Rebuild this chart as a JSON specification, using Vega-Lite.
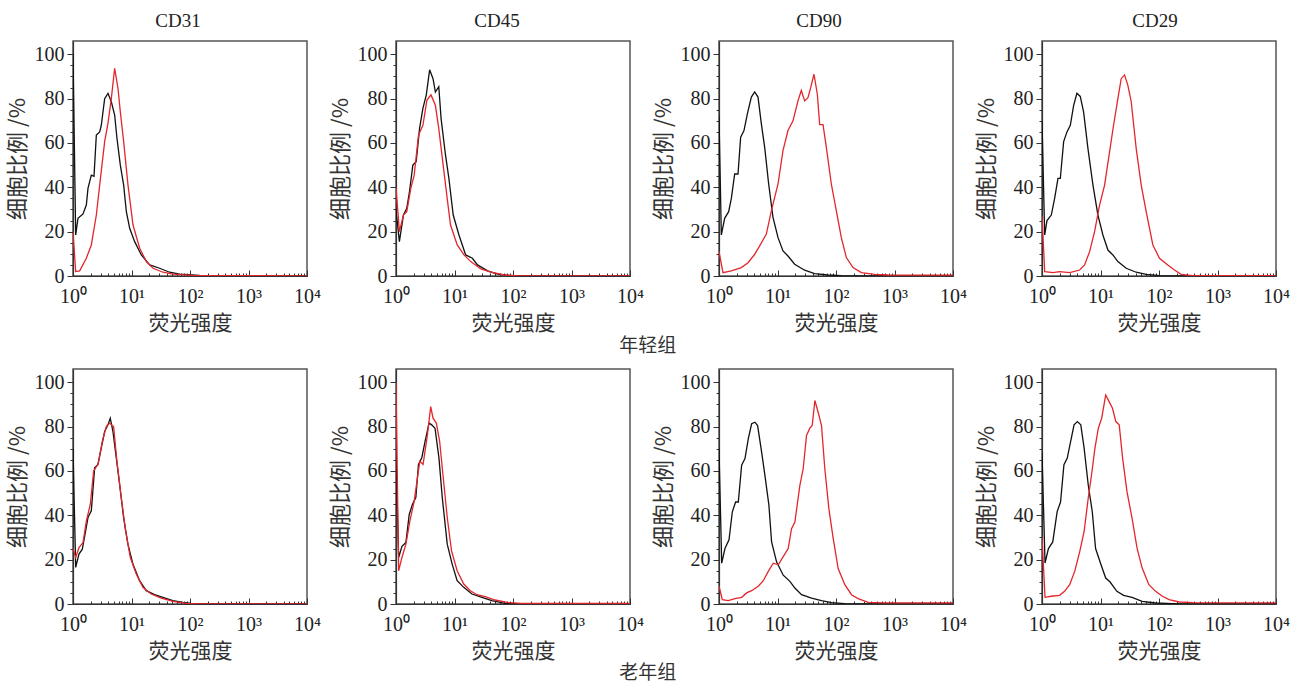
{
 "$schema": "https://vega.github.io/schema/vega-lite/v6.json",
 "padding": {"top": 11, "left": 5, "right": 5, "bottom": 0},
 "background": "white",
 "spacing": 12,
 "vconcat": [
  {
   "bounds": "flush",
   "spacing": 89,
   "title": {"text": "年轻组", "orient": "bottom", "anchor": "middle", "font": "Noto Sans CJK SC", "fontSize": 19, "fontWeight": "normal", "color": "#333", "offset": 3},
   "hconcat": [
    {
     "width": 234, "height": 235,
     "title": {"text": "CD31", "dx": -12, "offset": 10},
     "data": {"values": [
      {"s":"c","x":0,"y":100},{"s":"c","x":0.046,"y":18.5},{"s":"c","x":0.085,"y":26},{"s":"c","x":0.171,"y":28},{"s":"c","x":0.228,"y":32},{"s":"c","x":0.256,"y":39.5},{"s":"c","x":0.313,"y":45.5},{"s":"c","x":0.359,"y":45},{"s":"c","x":0.399,"y":63.6},{"s":"c","x":0.456,"y":65},{"s":"c","x":0.484,"y":68},{"s":"c","x":0.541,"y":80},{"s":"c","x":0.598,"y":82.4},{"s":"c","x":0.655,"y":78.6},{"s":"c","x":0.712,"y":72.6},{"s":"c","x":0.752,"y":62},{"s":"c","x":0.809,"y":50},{"s":"c","x":0.866,"y":41},{"s":"c","x":0.912,"y":29},{"s":"c","x":0.969,"y":21.5},{"s":"c","x":1.054,"y":15.5},{"s":"c","x":1.168,"y":9.5},{"s":"c","x":1.311,"y":5},{"s":"c","x":1.481,"y":3.5},{"s":"c","x":1.652,"y":1.7},{"s":"c","x":1.823,"y":0.8},{"s":"c","x":2.165,"y":0.3},{"s":"c","x":2.336,"y":0.15},{"s":"c","x":2.5,"y":0},{"s":"c","x":4,"y":0},
      {"s":"r","x":0,"y":20},{"s":"r","x":0.046,"y":2},{"s":"r","x":0.114,"y":2.3},{"s":"r","x":0.228,"y":8},{"s":"r","x":0.313,"y":14},{"s":"r","x":0.399,"y":27.5},{"s":"r","x":0.456,"y":41},{"s":"r","x":0.541,"y":60.6},{"s":"r","x":0.598,"y":69},{"s":"r","x":0.655,"y":80},{"s":"r","x":0.712,"y":93.7},{"s":"r","x":0.769,"y":84.7},{"s":"r","x":0.809,"y":74},{"s":"r","x":0.866,"y":60.6},{"s":"r","x":0.94,"y":41},{"s":"r","x":1.026,"y":23},{"s":"r","x":1.14,"y":12.5},{"s":"r","x":1.254,"y":6.5},{"s":"r","x":1.368,"y":3.5},{"s":"r","x":1.538,"y":1.7},{"s":"r","x":1.709,"y":0.8},{"s":"r","x":2.051,"y":0.3},{"s":"r","x":2.45,"y":0.15},{"s":"r","x":4,"y":0.1}
     ]},
     "mark": {"type": "line", "strokeWidth": 1.3, "clip": true},
     "encoding": {
      "x": {"field": "x", "type": "quantitative", "title": "荧光强度", "scale": {"domain": [0, 4], "nice": false, "zero": false}, "axis": {"values": [0,0.30103,0.47712,0.60206,0.69897,0.77815,0.8451,0.90309,0.95424,1,1.30103,1.47712,1.60206,1.69897,1.77815,1.8451,1.90309,1.95424,2,2.30103,2.47712,2.60206,2.69897,2.77815,2.8451,2.90309,2.95424,3,3.30103,3.47712,3.60206,3.69897,3.77815,3.8451,3.90309,3.95424,4], "labelExpr": "datum.value === 0 ? '10⁰' : datum.value === 1 ? '10¹' : datum.value === 2 ? '10²' : datum.value === 3 ? '10³' : datum.value === 4 ? '10⁴' : ''", "tickSize": {"condition": {"test": "datum.value % 1 === 0", "value": -6}, "value": -3}}},
      "y": {"field": "y", "type": "quantitative", "title": "细胞比例 /%", "scale": {"domain": [0, 106], "nice": false}, "axis": {"values": [0,5,10,15,20,25,30,35,40,45,50,55,60,65,70,75,80,85,90,95,100], "labelExpr": "datum.value % 20 === 0 ? datum.label : ''", "tickSize": {"condition": {"test": "datum.value % 20 === 0", "value": 6}, "value": 3}}},
      "color": {"field": "s", "type": "nominal", "scale": {"domain": ["c", "r"], "range": ["#111111", "#e3262b"]}, "legend": null}
     }
    },
    {
     "width": 234, "height": 235,
     "title": {"text": "CD45", "dx": -16, "offset": 10},
     "data": {"values": [
      {"s":"c","x":0,"y":30},{"s":"c","x":0.058,"y":15.5},{"s":"c","x":0.127,"y":27.5},{"s":"c","x":0.184,"y":30.5},{"s":"c","x":0.23,"y":38},{"s":"c","x":0.288,"y":50},{"s":"c","x":0.345,"y":51.6},{"s":"c","x":0.403,"y":66.6},{"s":"c","x":0.46,"y":75.6},{"s":"c","x":0.518,"y":81.7},{"s":"c","x":0.575,"y":93},{"s":"c","x":0.633,"y":89},{"s":"c","x":0.673,"y":83},{"s":"c","x":0.731,"y":85.4},{"s":"c","x":0.771,"y":71},{"s":"c","x":0.846,"y":54.6},{"s":"c","x":0.904,"y":44},{"s":"c","x":0.978,"y":27.5},{"s":"c","x":1.076,"y":18.5},{"s":"c","x":1.191,"y":9.5},{"s":"c","x":1.306,"y":8},{"s":"c","x":1.393,"y":5},{"s":"c","x":1.566,"y":2.3},{"s":"c","x":1.738,"y":0.8},{"s":"c","x":1.968,"y":0.15},{"s":"c","x":2.2,"y":0},{"s":"c","x":4,"y":0},
      {"s":"r","x":0,"y":40},{"s":"r","x":0.058,"y":20},{"s":"r","x":0.127,"y":27.5},{"s":"r","x":0.184,"y":29},{"s":"r","x":0.253,"y":39.5},{"s":"r","x":0.311,"y":45.5},{"s":"r","x":0.385,"y":63.6},{"s":"r","x":0.46,"y":68},{"s":"r","x":0.529,"y":79.4},{"s":"r","x":0.598,"y":81.7},{"s":"r","x":0.673,"y":77},{"s":"r","x":0.731,"y":66.6},{"s":"r","x":0.806,"y":50},{"s":"r","x":0.875,"y":35},{"s":"r","x":0.932,"y":23},{"s":"r","x":1.047,"y":14},{"s":"r","x":1.162,"y":9.5},{"s":"r","x":1.278,"y":6.5},{"s":"r","x":1.45,"y":3.2},{"s":"r","x":1.623,"y":1.7},{"s":"r","x":1.853,"y":0.45},{"s":"r","x":2.1,"y":0.1},{"s":"r","x":4,"y":0.1}
     ]},
     "mark": {"type": "line", "strokeWidth": 1.3, "clip": true},
     "encoding": {
      "x": {"field": "x", "type": "quantitative", "title": "荧光强度", "scale": {"domain": [0, 4], "nice": false, "zero": false}, "axis": {"values": [0,0.30103,0.47712,0.60206,0.69897,0.77815,0.8451,0.90309,0.95424,1,1.30103,1.47712,1.60206,1.69897,1.77815,1.8451,1.90309,1.95424,2,2.30103,2.47712,2.60206,2.69897,2.77815,2.8451,2.90309,2.95424,3,3.30103,3.47712,3.60206,3.69897,3.77815,3.8451,3.90309,3.95424,4], "labelExpr": "datum.value === 0 ? '10⁰' : datum.value === 1 ? '10¹' : datum.value === 2 ? '10²' : datum.value === 3 ? '10³' : datum.value === 4 ? '10⁴' : ''", "tickSize": {"condition": {"test": "datum.value % 1 === 0", "value": -6}, "value": -3}}},
      "y": {"field": "y", "type": "quantitative", "title": "细胞比例 /%", "scale": {"domain": [0, 106], "nice": false}, "axis": {"values": [0,5,10,15,20,25,30,35,40,45,50,55,60,65,70,75,80,85,90,95,100], "labelExpr": "datum.value % 20 === 0 ? datum.label : ''", "tickSize": {"condition": {"test": "datum.value % 20 === 0", "value": 6}, "value": 3}}},
      "color": {"field": "s", "type": "nominal", "scale": {"domain": ["c", "r"], "range": ["#111111", "#e3262b"]}, "legend": null}
     }
    },
    {
     "width": 234, "height": 235,
     "title": {"text": "CD90", "dx": -17, "offset": 10},
     "data": {"values": [
      {"s":"c","x":0,"y":72},{"s":"c","x":0.04,"y":18.5},{"s":"c","x":0.097,"y":26},{"s":"c","x":0.165,"y":29},{"s":"c","x":0.211,"y":35},{"s":"c","x":0.268,"y":46},{"s":"c","x":0.325,"y":46},{"s":"c","x":0.37,"y":62.6},{"s":"c","x":0.427,"y":65.6},{"s":"c","x":0.484,"y":73},{"s":"c","x":0.553,"y":80.7},{"s":"c","x":0.61,"y":83},{"s":"c","x":0.667,"y":80.7},{"s":"c","x":0.724,"y":68.6},{"s":"c","x":0.781,"y":58},{"s":"c","x":0.849,"y":41.5},{"s":"c","x":0.923,"y":26.4},{"s":"c","x":1.009,"y":17.3},{"s":"c","x":1.094,"y":11.3},{"s":"c","x":1.179,"y":9},{"s":"c","x":1.293,"y":5.3},{"s":"c","x":1.464,"y":2.6},{"s":"c","x":1.635,"y":1.05},{"s":"c","x":1.863,"y":0.45},{"s":"c","x":2.09,"y":0.15},{"s":"c","x":2.3,"y":0},{"s":"c","x":4,"y":0},
      {"s":"r","x":0,"y":11},{"s":"r","x":0.068,"y":1.5},{"s":"r","x":0.211,"y":2.3},{"s":"r","x":0.382,"y":3.8},{"s":"r","x":0.496,"y":6},{"s":"r","x":0.61,"y":9.8},{"s":"r","x":0.695,"y":13.6},{"s":"r","x":0.809,"y":18.9},{"s":"r","x":0.895,"y":29.4},{"s":"r","x":1.009,"y":41.5},{"s":"r","x":1.094,"y":56.6},{"s":"r","x":1.179,"y":65.6},{"s":"r","x":1.265,"y":70},{"s":"r","x":1.35,"y":79},{"s":"r","x":1.407,"y":83.7},{"s":"r","x":1.464,"y":79},{"s":"r","x":1.521,"y":80.4},{"s":"r","x":1.567,"y":85},{"s":"r","x":1.624,"y":91},{"s":"r","x":1.681,"y":82},{"s":"r","x":1.721,"y":68.3},{"s":"r","x":1.778,"y":68.3},{"s":"r","x":1.835,"y":58},{"s":"r","x":1.92,"y":41.5},{"s":"r","x":2.006,"y":29.4},{"s":"r","x":2.091,"y":17.3},{"s":"r","x":2.177,"y":8.3},{"s":"r","x":2.291,"y":3.8},{"s":"r","x":2.433,"y":1.5},{"s":"r","x":2.661,"y":0.75},{"s":"r","x":2.889,"y":0.45},{"s":"r","x":4,"y":0.4}
     ]},
     "mark": {"type": "line", "strokeWidth": 1.3, "clip": true},
     "encoding": {
      "x": {"field": "x", "type": "quantitative", "title": "荧光强度", "scale": {"domain": [0, 4], "nice": false, "zero": false}, "axis": {"values": [0,0.30103,0.47712,0.60206,0.69897,0.77815,0.8451,0.90309,0.95424,1,1.30103,1.47712,1.60206,1.69897,1.77815,1.8451,1.90309,1.95424,2,2.30103,2.47712,2.60206,2.69897,2.77815,2.8451,2.90309,2.95424,3,3.30103,3.47712,3.60206,3.69897,3.77815,3.8451,3.90309,3.95424,4], "labelExpr": "datum.value === 0 ? '10⁰' : datum.value === 1 ? '10¹' : datum.value === 2 ? '10²' : datum.value === 3 ? '10³' : datum.value === 4 ? '10⁴' : ''", "tickSize": {"condition": {"test": "datum.value % 1 === 0", "value": -6}, "value": -3}}},
      "y": {"field": "y", "type": "quantitative", "title": "细胞比例 /%", "scale": {"domain": [0, 106], "nice": false}, "axis": {"values": [0,5,10,15,20,25,30,35,40,45,50,55,60,65,70,75,80,85,90,95,100], "labelExpr": "datum.value % 20 === 0 ? datum.label : ''", "tickSize": {"condition": {"test": "datum.value % 20 === 0", "value": 6}, "value": 3}}},
      "color": {"field": "s", "type": "nominal", "scale": {"domain": ["c", "r"], "range": ["#111111", "#e3262b"]}, "legend": null}
     }
    },
    {
     "width": 234, "height": 235,
     "title": {"text": "CD29", "dx": -4, "offset": 10},
     "data": {"values": [
      {"s":"c","x":0,"y":70},{"s":"c","x":0.046,"y":18.5},{"s":"c","x":0.085,"y":25},{"s":"c","x":0.159,"y":27.5},{"s":"c","x":0.216,"y":35},{"s":"c","x":0.273,"y":44},{"s":"c","x":0.313,"y":44},{"s":"c","x":0.37,"y":60.6},{"s":"c","x":0.427,"y":65},{"s":"c","x":0.484,"y":68},{"s":"c","x":0.541,"y":77},{"s":"c","x":0.597,"y":82.4},{"s":"c","x":0.654,"y":81},{"s":"c","x":0.711,"y":74},{"s":"c","x":0.785,"y":57.6},{"s":"c","x":0.871,"y":41},{"s":"c","x":0.956,"y":27.5},{"s":"c","x":1.041,"y":18.5},{"s":"c","x":1.127,"y":11.7},{"s":"c","x":1.212,"y":9.5},{"s":"c","x":1.297,"y":6.5},{"s":"c","x":1.44,"y":3.5},{"s":"c","x":1.61,"y":1.7},{"s":"c","x":1.78,"y":0.75},{"s":"c","x":2.008,"y":0.15},{"s":"c","x":2.2,"y":0},{"s":"c","x":4,"y":0},
      {"s":"r","x":0,"y":27},{"s":"r","x":0.046,"y":2},{"s":"r","x":0.188,"y":1.5},{"s":"r","x":0.302,"y":2},{"s":"r","x":0.472,"y":1.5},{"s":"r","x":0.643,"y":2.7},{"s":"r","x":0.728,"y":5},{"s":"r","x":0.814,"y":11},{"s":"r","x":0.899,"y":20},{"s":"r","x":0.984,"y":32},{"s":"r","x":1.07,"y":41},{"s":"r","x":1.155,"y":56},{"s":"r","x":1.223,"y":68},{"s":"r","x":1.297,"y":80},{"s":"r","x":1.354,"y":89},{"s":"r","x":1.411,"y":90.7},{"s":"r","x":1.468,"y":86},{"s":"r","x":1.525,"y":78.6},{"s":"r","x":1.61,"y":57.6},{"s":"r","x":1.696,"y":41},{"s":"r","x":1.781,"y":29},{"s":"r","x":1.895,"y":14},{"s":"r","x":2.008,"y":8},{"s":"r","x":2.15,"y":5},{"s":"r","x":2.264,"y":2.7},{"s":"r","x":2.378,"y":0.75},{"s":"r","x":2.577,"y":0.15},{"s":"r","x":4,"y":0.1}
     ]},
     "mark": {"type": "line", "strokeWidth": 1.3, "clip": true},
     "encoding": {
      "x": {"field": "x", "type": "quantitative", "title": "荧光强度", "scale": {"domain": [0, 4], "nice": false, "zero": false}, "axis": {"values": [0,0.30103,0.47712,0.60206,0.69897,0.77815,0.8451,0.90309,0.95424,1,1.30103,1.47712,1.60206,1.69897,1.77815,1.8451,1.90309,1.95424,2,2.30103,2.47712,2.60206,2.69897,2.77815,2.8451,2.90309,2.95424,3,3.30103,3.47712,3.60206,3.69897,3.77815,3.8451,3.90309,3.95424,4], "labelExpr": "datum.value === 0 ? '10⁰' : datum.value === 1 ? '10¹' : datum.value === 2 ? '10²' : datum.value === 3 ? '10³' : datum.value === 4 ? '10⁴' : ''", "tickSize": {"condition": {"test": "datum.value % 1 === 0", "value": -6}, "value": -3}}},
      "y": {"field": "y", "type": "quantitative", "title": "细胞比例 /%", "scale": {"domain": [0, 106], "nice": false}, "axis": {"values": [0,5,10,15,20,25,30,35,40,45,50,55,60,65,70,75,80,85,90,95,100], "labelExpr": "datum.value % 20 === 0 ? datum.label : ''", "tickSize": {"condition": {"test": "datum.value % 20 === 0", "value": 6}, "value": 3}}},
      "color": {"field": "s", "type": "nominal", "scale": {"domain": ["c", "r"], "range": ["#111111", "#e3262b"]}, "legend": null}
     }
    }
   ]
  },
  {
   "bounds": "flush",
   "spacing": 89,
   "title": {"text": "老年组", "orient": "bottom", "anchor": "middle", "font": "Noto Sans CJK SC", "fontSize": 19, "fontWeight": "normal", "color": "#333", "offset": 2},
   "hconcat": [
    {
     "width": 234, "height": 235,
     "data": {"values": [
      {"s":"c","x":0,"y":70},{"s":"c","x":0.046,"y":16.5},{"s":"c","x":0.102,"y":22.5},{"s":"c","x":0.159,"y":24.7},{"s":"c","x":0.216,"y":33},{"s":"c","x":0.256,"y":39},{"s":"c","x":0.313,"y":42},{"s":"c","x":0.37,"y":61.4},{"s":"c","x":0.427,"y":63},{"s":"c","x":0.484,"y":70.4},{"s":"c","x":0.541,"y":77.8},{"s":"c","x":0.597,"y":80.8},{"s":"c","x":0.637,"y":83.8},{"s":"c","x":0.683,"y":77.8},{"s":"c","x":0.74,"y":65.9},{"s":"c","x":0.797,"y":53.9},{"s":"c","x":0.865,"y":39},{"s":"c","x":0.939,"y":27},{"s":"c","x":1.024,"y":18},{"s":"c","x":1.138,"y":10.5},{"s":"c","x":1.252,"y":6},{"s":"c","x":1.394,"y":4.2},{"s":"c","x":1.536,"y":3},{"s":"c","x":1.707,"y":1.5},{"s":"c","x":1.878,"y":0.75},{"s":"c","x":2.02,"y":0.3},{"s":"c","x":2.2,"y":0},{"s":"c","x":4,"y":0},
      {"s":"r","x":0,"y":25},{"s":"r","x":0.046,"y":21},{"s":"r","x":0.102,"y":25.4},{"s":"r","x":0.171,"y":27.7},{"s":"r","x":0.228,"y":37.4},{"s":"r","x":0.296,"y":45},{"s":"r","x":0.353,"y":60},{"s":"r","x":0.427,"y":63},{"s":"r","x":0.501,"y":73.4},{"s":"r","x":0.569,"y":80},{"s":"r","x":0.626,"y":81.6},{"s":"r","x":0.694,"y":80},{"s":"r","x":0.751,"y":64.4},{"s":"r","x":0.825,"y":48},{"s":"r","x":0.899,"y":33},{"s":"r","x":0.979,"y":21},{"s":"r","x":1.081,"y":13.5},{"s":"r","x":1.195,"y":7.5},{"s":"r","x":1.337,"y":4.5},{"s":"r","x":1.508,"y":2.7},{"s":"r","x":1.707,"y":1.2},{"s":"r","x":1.935,"y":0.3},{"s":"r","x":2.2,"y":0},{"s":"r","x":4,"y":0}
     ]},
     "mark": {"type": "line", "strokeWidth": 1.3, "clip": true},
     "encoding": {
      "x": {"field": "x", "type": "quantitative", "title": "荧光强度", "scale": {"domain": [0, 4], "nice": false, "zero": false}, "axis": {"values": [0,0.30103,0.47712,0.60206,0.69897,0.77815,0.8451,0.90309,0.95424,1,1.30103,1.47712,1.60206,1.69897,1.77815,1.8451,1.90309,1.95424,2,2.30103,2.47712,2.60206,2.69897,2.77815,2.8451,2.90309,2.95424,3,3.30103,3.47712,3.60206,3.69897,3.77815,3.8451,3.90309,3.95424,4], "labelExpr": "datum.value === 0 ? '10⁰' : datum.value === 1 ? '10¹' : datum.value === 2 ? '10²' : datum.value === 3 ? '10³' : datum.value === 4 ? '10⁴' : ''", "tickSize": {"condition": {"test": "datum.value % 1 === 0", "value": -6}, "value": -3}}},
      "y": {"field": "y", "type": "quantitative", "title": "细胞比例 /%", "scale": {"domain": [0, 106], "nice": false}, "axis": {"values": [0,5,10,15,20,25,30,35,40,45,50,55,60,65,70,75,80,85,90,95,100], "labelExpr": "datum.value % 20 === 0 ? datum.label : ''", "tickSize": {"condition": {"test": "datum.value % 20 === 0", "value": 6}, "value": 3}}},
      "color": {"field": "s", "type": "nominal", "scale": {"domain": ["c", "r"], "range": ["#111111", "#e3262b"]}, "legend": null}
     }
    },
    {
     "width": 234, "height": 235,
     "data": {"values": [
      {"s":"c","x":0,"y":68},{"s":"c","x":0.045,"y":21},{"s":"c","x":0.102,"y":26},{"s":"c","x":0.169,"y":27.7},{"s":"c","x":0.226,"y":40.4},{"s":"c","x":0.282,"y":45},{"s":"c","x":0.339,"y":48},{"s":"c","x":0.384,"y":63},{"s":"c","x":0.441,"y":66},{"s":"c","x":0.497,"y":73.4},{"s":"c","x":0.565,"y":81.6},{"s":"c","x":0.61,"y":80.8},{"s":"c","x":0.667,"y":79.3},{"s":"c","x":0.734,"y":65.9},{"s":"c","x":0.791,"y":48},{"s":"c","x":0.876,"y":27},{"s":"c","x":0.96,"y":18},{"s":"c","x":1.045,"y":10.5},{"s":"c","x":1.158,"y":7.5},{"s":"c","x":1.299,"y":4.5},{"s":"c","x":1.469,"y":3},{"s":"c","x":1.638,"y":1.5},{"s":"c","x":1.864,"y":0.3},{"s":"c","x":2.1,"y":0},{"s":"c","x":4,"y":0},
      {"s":"r","x":0,"y":100},{"s":"r","x":0.045,"y":15},{"s":"r","x":0.102,"y":21},{"s":"r","x":0.169,"y":27},{"s":"r","x":0.237,"y":37.4},{"s":"r","x":0.311,"y":46.4},{"s":"r","x":0.367,"y":57},{"s":"r","x":0.407,"y":64.4},{"s":"r","x":0.463,"y":63},{"s":"r","x":0.537,"y":76.3},{"s":"r","x":0.593,"y":89},{"s":"r","x":0.633,"y":83.8},{"s":"r","x":0.689,"y":81.6},{"s":"r","x":0.746,"y":73.4},{"s":"r","x":0.802,"y":58.4},{"s":"r","x":0.876,"y":39},{"s":"r","x":0.949,"y":24},{"s":"r","x":1.045,"y":15},{"s":"r","x":1.158,"y":9},{"s":"r","x":1.271,"y":6},{"s":"r","x":1.384,"y":4.2},{"s":"r","x":1.525,"y":3.3},{"s":"r","x":1.695,"y":1.8},{"s":"r","x":1.921,"y":0.6},{"s":"r","x":2.147,"y":0.3},{"s":"r","x":4,"y":0.3}
     ]},
     "mark": {"type": "line", "strokeWidth": 1.3, "clip": true},
     "encoding": {
      "x": {"field": "x", "type": "quantitative", "title": "荧光强度", "scale": {"domain": [0, 4], "nice": false, "zero": false}, "axis": {"values": [0,0.30103,0.47712,0.60206,0.69897,0.77815,0.8451,0.90309,0.95424,1,1.30103,1.47712,1.60206,1.69897,1.77815,1.8451,1.90309,1.95424,2,2.30103,2.47712,2.60206,2.69897,2.77815,2.8451,2.90309,2.95424,3,3.30103,3.47712,3.60206,3.69897,3.77815,3.8451,3.90309,3.95424,4], "labelExpr": "datum.value === 0 ? '10⁰' : datum.value === 1 ? '10¹' : datum.value === 2 ? '10²' : datum.value === 3 ? '10³' : datum.value === 4 ? '10⁴' : ''", "tickSize": {"condition": {"test": "datum.value % 1 === 0", "value": -6}, "value": -3}}},
      "y": {"field": "y", "type": "quantitative", "title": "细胞比例 /%", "scale": {"domain": [0, 106], "nice": false}, "axis": {"values": [0,5,10,15,20,25,30,35,40,45,50,55,60,65,70,75,80,85,90,95,100], "labelExpr": "datum.value % 20 === 0 ? datum.label : ''", "tickSize": {"condition": {"test": "datum.value % 20 === 0", "value": 6}, "value": 3}}},
      "color": {"field": "s", "type": "nominal", "scale": {"domain": ["c", "r"], "range": ["#111111", "#e3262b"]}, "legend": null}
     }
    },
    {
     "width": 234, "height": 235,
     "data": {"values": [
      {"s":"c","x":0,"y":70},{"s":"c","x":0.046,"y":18.4},{"s":"c","x":0.102,"y":25},{"s":"c","x":0.171,"y":29},{"s":"c","x":0.228,"y":41.6},{"s":"c","x":0.284,"y":46},{"s":"c","x":0.33,"y":46},{"s":"c","x":0.387,"y":62.6},{"s":"c","x":0.444,"y":65.6},{"s":"c","x":0.501,"y":74.6},{"s":"c","x":0.558,"y":81.3},{"s":"c","x":0.615,"y":82},{"s":"c","x":0.66,"y":80.5},{"s":"c","x":0.728,"y":68.6},{"s":"c","x":0.785,"y":58},{"s":"c","x":0.853,"y":44.6},{"s":"c","x":0.899,"y":28},{"s":"c","x":0.984,"y":19},{"s":"c","x":1.098,"y":13},{"s":"c","x":1.212,"y":10.2},{"s":"c","x":1.297,"y":7.2},{"s":"c","x":1.411,"y":4.2},{"s":"c","x":1.582,"y":2.7},{"s":"c","x":1.752,"y":1.5},{"s":"c","x":1.923,"y":0.6},{"s":"c","x":2.15,"y":0.15},{"s":"c","x":2.3,"y":0},{"s":"c","x":4,"y":0},
      {"s":"r","x":0,"y":8},{"s":"r","x":0.057,"y":2},{"s":"r","x":0.159,"y":1.5},{"s":"r","x":0.273,"y":2.4},{"s":"r","x":0.387,"y":3},{"s":"r","x":0.472,"y":5},{"s":"r","x":0.558,"y":6},{"s":"r","x":0.671,"y":8},{"s":"r","x":0.757,"y":10.5},{"s":"r","x":0.842,"y":14.7},{"s":"r","x":0.927,"y":18.4},{"s":"r","x":1.013,"y":17.7},{"s":"r","x":1.098,"y":21.4},{"s":"r","x":1.183,"y":25},{"s":"r","x":1.24,"y":34},{"s":"r","x":1.297,"y":37},{"s":"r","x":1.383,"y":53.6},{"s":"r","x":1.439,"y":61},{"s":"r","x":1.496,"y":76},{"s":"r","x":1.553,"y":79.3},{"s":"r","x":1.593,"y":80.5},{"s":"r","x":1.639,"y":91.8},{"s":"r","x":1.695,"y":86.5},{"s":"r","x":1.752,"y":80.5},{"s":"r","x":1.809,"y":61},{"s":"r","x":1.878,"y":43},{"s":"r","x":1.952,"y":29.6},{"s":"r","x":2.037,"y":16},{"s":"r","x":2.151,"y":8.7},{"s":"r","x":2.265,"y":4.2},{"s":"r","x":2.378,"y":2.4},{"s":"r","x":2.549,"y":0.75},{"s":"r","x":2.834,"y":0.5},{"s":"r","x":4,"y":0.5}
     ]},
     "mark": {"type": "line", "strokeWidth": 1.3, "clip": true},
     "encoding": {
      "x": {"field": "x", "type": "quantitative", "title": "荧光强度", "scale": {"domain": [0, 4], "nice": false, "zero": false}, "axis": {"values": [0,0.30103,0.47712,0.60206,0.69897,0.77815,0.8451,0.90309,0.95424,1,1.30103,1.47712,1.60206,1.69897,1.77815,1.8451,1.90309,1.95424,2,2.30103,2.47712,2.60206,2.69897,2.77815,2.8451,2.90309,2.95424,3,3.30103,3.47712,3.60206,3.69897,3.77815,3.8451,3.90309,3.95424,4], "labelExpr": "datum.value === 0 ? '10⁰' : datum.value === 1 ? '10¹' : datum.value === 2 ? '10²' : datum.value === 3 ? '10³' : datum.value === 4 ? '10⁴' : ''", "tickSize": {"condition": {"test": "datum.value % 1 === 0", "value": -6}, "value": -3}}},
      "y": {"field": "y", "type": "quantitative", "title": "细胞比例 /%", "scale": {"domain": [0, 106], "nice": false}, "axis": {"values": [0,5,10,15,20,25,30,35,40,45,50,55,60,65,70,75,80,85,90,95,100], "labelExpr": "datum.value % 20 === 0 ? datum.label : ''", "tickSize": {"condition": {"test": "datum.value % 20 === 0", "value": 6}, "value": 3}}},
      "color": {"field": "s", "type": "nominal", "scale": {"domain": ["c", "r"], "range": ["#111111", "#e3262b"]}, "legend": null}
     }
    },
    {
     "width": 234, "height": 235,
     "data": {"values": [
      {"s":"c","x":0,"y":68},{"s":"c","x":0.052,"y":18.5},{"s":"c","x":0.11,"y":25},{"s":"c","x":0.184,"y":28},{"s":"c","x":0.259,"y":41.7},{"s":"c","x":0.317,"y":46},{"s":"c","x":0.375,"y":62.8},{"s":"c","x":0.432,"y":65.8},{"s":"c","x":0.49,"y":73.3},{"s":"c","x":0.548,"y":80.8},{"s":"c","x":0.605,"y":82.3},{"s":"c","x":0.663,"y":80.8},{"s":"c","x":0.72,"y":70.3},{"s":"c","x":0.79,"y":53.8},{"s":"c","x":0.859,"y":41.7},{"s":"c","x":0.916,"y":25},{"s":"c","x":1.009,"y":17.7},{"s":"c","x":1.089,"y":11.7},{"s":"c","x":1.164,"y":9.9},{"s":"c","x":1.28,"y":5.7},{"s":"c","x":1.395,"y":3.9},{"s":"c","x":1.539,"y":3},{"s":"c","x":1.712,"y":1.2},{"s":"c","x":1.942,"y":0.45},{"s":"c","x":2.231,"y":0.15},{"s":"c","x":2.4,"y":0},{"s":"c","x":4,"y":0},
      {"s":"r","x":0,"y":30},{"s":"r","x":0.052,"y":3},{"s":"r","x":0.156,"y":3.5},{"s":"r","x":0.3,"y":3.9},{"s":"r","x":0.386,"y":5.7},{"s":"r","x":0.473,"y":8.7},{"s":"r","x":0.559,"y":14.7},{"s":"r","x":0.646,"y":23.7},{"s":"r","x":0.72,"y":32.7},{"s":"r","x":0.79,"y":47.7},{"s":"r","x":0.847,"y":58.3},{"s":"r","x":0.905,"y":70.3},{"s":"r","x":0.963,"y":79.3},{"s":"r","x":1.02,"y":83.8},{"s":"r","x":1.089,"y":94.3},{"s":"r","x":1.147,"y":91.3},{"s":"r","x":1.205,"y":88.3},{"s":"r","x":1.262,"y":82.3},{"s":"r","x":1.32,"y":80.8},{"s":"r","x":1.378,"y":65.8},{"s":"r","x":1.452,"y":50.8},{"s":"r","x":1.539,"y":38.7},{"s":"r","x":1.625,"y":25.2},{"s":"r","x":1.712,"y":16.2},{"s":"r","x":1.827,"y":8.7},{"s":"r","x":1.942,"y":5.7},{"s":"r","x":2.058,"y":3.5},{"s":"r","x":2.173,"y":2},{"s":"r","x":2.346,"y":0.9},{"s":"r","x":2.576,"y":0.6},{"s":"r","x":4,"y":0.5}
     ]},
     "mark": {"type": "line", "strokeWidth": 1.3, "clip": true},
     "encoding": {
      "x": {"field": "x", "type": "quantitative", "title": "荧光强度", "scale": {"domain": [0, 4], "nice": false, "zero": false}, "axis": {"values": [0,0.30103,0.47712,0.60206,0.69897,0.77815,0.8451,0.90309,0.95424,1,1.30103,1.47712,1.60206,1.69897,1.77815,1.8451,1.90309,1.95424,2,2.30103,2.47712,2.60206,2.69897,2.77815,2.8451,2.90309,2.95424,3,3.30103,3.47712,3.60206,3.69897,3.77815,3.8451,3.90309,3.95424,4], "labelExpr": "datum.value === 0 ? '10⁰' : datum.value === 1 ? '10¹' : datum.value === 2 ? '10²' : datum.value === 3 ? '10³' : datum.value === 4 ? '10⁴' : ''", "tickSize": {"condition": {"test": "datum.value % 1 === 0", "value": -6}, "value": -3}}},
      "y": {"field": "y", "type": "quantitative", "title": "细胞比例 /%", "scale": {"domain": [0, 106], "nice": false}, "axis": {"values": [0,5,10,15,20,25,30,35,40,45,50,55,60,65,70,75,80,85,90,95,100], "labelExpr": "datum.value % 20 === 0 ? datum.label : ''", "tickSize": {"condition": {"test": "datum.value % 20 === 0", "value": 6}, "value": 3}}},
      "color": {"field": "s", "type": "nominal", "scale": {"domain": ["c", "r"], "range": ["#111111", "#e3262b"]}, "legend": null}
     }
    }
   ]
  }
 ],
 "config": {
  "view": {"stroke": "#555555", "strokeWidth": 1.5},
  "axis": {"labelFont": "Liberation Serif", "labelFontSize": 20, "labelColor": "#222222", "titleFont": "Noto Sans CJK SC", "titleFontSize": 19, "titleFontWeight": "normal", "titleColor": "#333333", "domainColor": "#333333", "domainWidth": 1.2, "tickColor": "#333333", "grid": false, "labelFlush": false, "labelOverlap": false},
  "axisX": {"labelPadding": 16, "titlePadding": 3, "titleFontSize": 21},
  "axisY": {"labelPadding": 3, "titlePadding": 5, "titleFontSize": 22},
  "title": {"font": "Liberation Serif", "fontSize": 19, "fontWeight": "normal", "color": "#222222"}
 }
}
